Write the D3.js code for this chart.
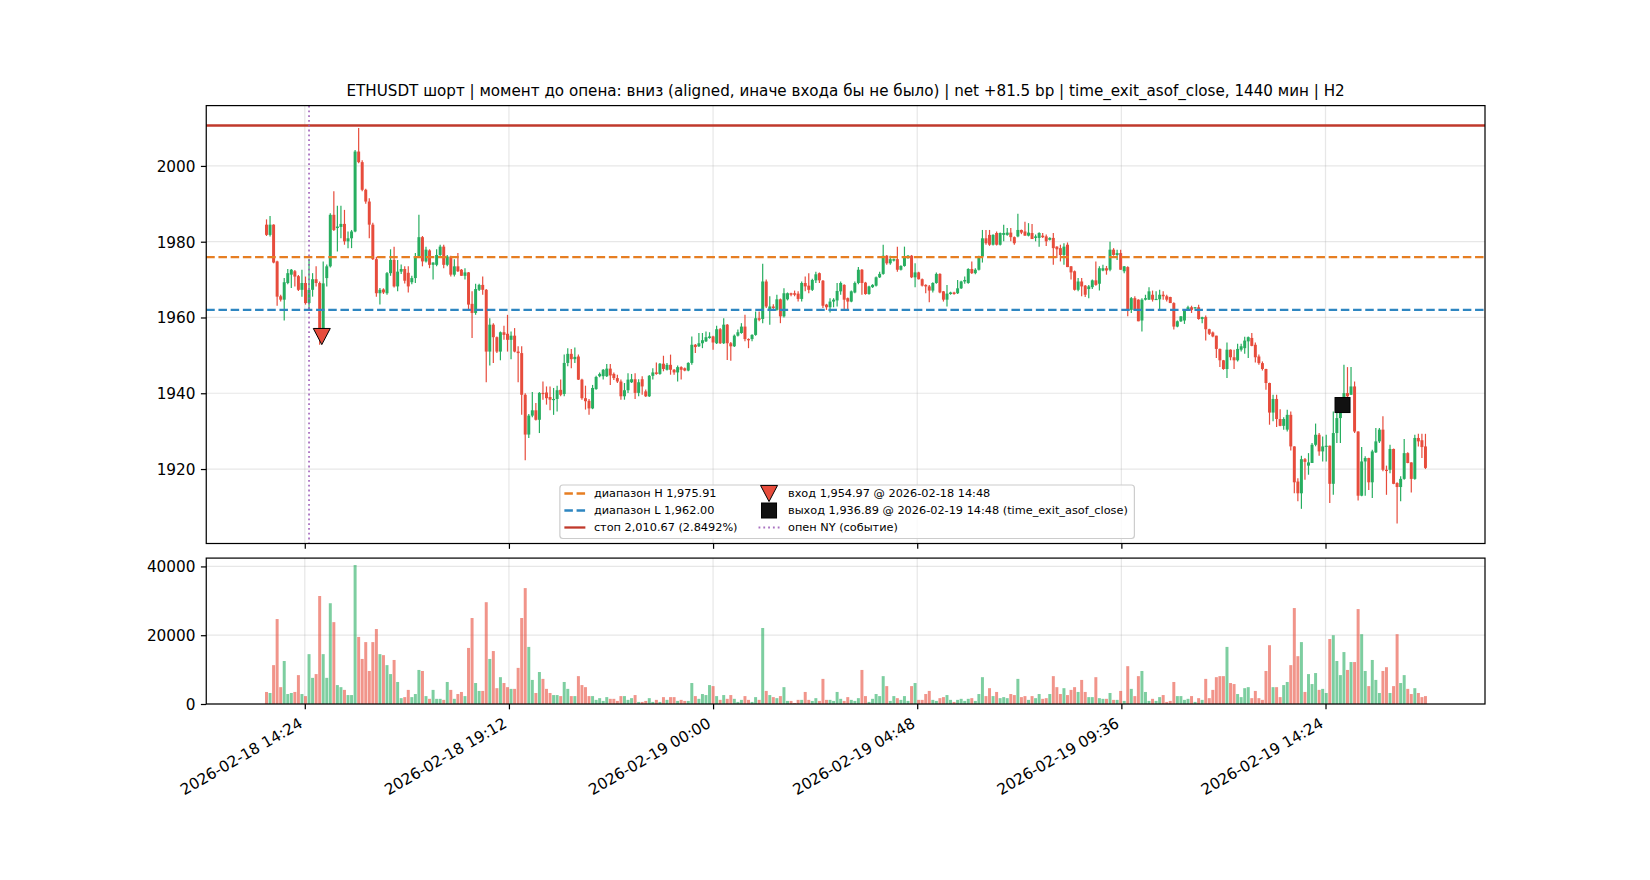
<!DOCTYPE html>
<html><head><meta charset="utf-8">
<script src="https://cdn.jsdelivr.net/npm/d3@7"></script>
<style>body{margin:0;background:#fff}svg{display:block}text{font-family:"DejaVu Sans",sans-serif}</style>
</head><body><svg id="chart" width="1650" height="880"></svg>
<script>
const chartTitle = "ETHUSDT шорт | момент до опена: вниз (aligned, иначе входа бы не было) | net +81.5 bp | time_exit_asof_close, 1440 мин | H2";
const firstBar = "2026-02-18 13:30";
const barMinutes = 5;
const opens = [
1984.5,1981.8,1984.5,1974.8,1965.6,1964.7,1969.1,1971.3,1972.2,1970.9,
1967.3,1969.1,1963.8,1967.3,1970.1,1969.1,1955.2,1970.4,1973.5,1987.1,
1983.6,1983.9,1984.7,1980.1,1980.9,1982.7,2003.8,2001.0,1993.7,1990.6,
1984.5,1975.4,1966.4,1967.4,1966.4,1971.7,1975.2,1968.2,1972.1,1972.8,
1971.8,1969.3,1970.4,1976.1,1981.2,1974.8,1977.7,1973.9,1973.9,1976.5,
1978.7,1973.9,1976.1,1971.3,1973.5,1972.6,1971.0,1971.9,1963.6,1961.2,
1967.3,1968.6,1967.3,1951.0,1958.1,1954.8,1951.0,1956.1,1955.7,1954.1,
1955.2,1951.0,1950.6,1939.6,1929.1,1934.1,1935.5,1933.0,1940.1,1940.2,
1939.0,1938.3,1938.5,1940.9,1939.8,1948.0,1950.4,1949.0,1949.7,1943.6,
1938.7,1938.0,1936.0,1941.1,1944.5,1944.5,1944.5,1946.5,1945.1,1944.0,
1943.1,1939.2,1940.8,1942.9,1943.7,1940.1,1943.7,1940.5,1939.2,1944.6,
1945.5,1945.1,1947.8,1946.2,1947.5,1946.2,1945.5,1946.9,1946.6,1946.0,
1948.0,1952.8,1952.4,1953.2,1953.7,1954.6,1955.0,1953.2,1956.9,1953.2,
1958.1,1953.2,1952.4,1955.2,1955.9,1957.6,1954.3,1954.3,1955.4,1959.8,
1959.6,1969.5,1962.0,1962.9,1962.0,1964.8,1960.3,1964.8,1966.4,1966.4,
1966.3,1964.9,1969.1,1968.4,1967.3,1969.8,1971.7,1969.7,1963.4,1962.7,
1964.2,1964.5,1966.9,1968.6,1965.1,1964.2,1966.6,1969.1,1972.6,1969.2,
1966.2,1968.0,1968.4,1970.6,1971.5,1976.3,1974.3,1975.0,1975.4,1972.6,
1973.6,1975.7,1976.3,1970.6,1971.9,1970.1,1968.6,1968.2,1967.1,1969.1,
1971.5,1966.9,1964.7,1966.2,1966.6,1966.4,1967.7,1969.5,1969.1,1972.8,
1971.7,1972.6,1976.1,1980.9,1981.8,1979.2,1982.3,1979.2,1981.8,1981.8,
1982.4,1981.2,1981.4,1983.1,1982.7,1981.6,1982.3,1981.0,1981.0,1981.6,
1981.4,1980.5,1981.0,1978.7,1978.3,1976.5,1979.2,1973.5,1972.2,1967.3,
1969.5,1968.4,1967.5,1968.0,1969.8,1968.9,1972.4,1973.0,1972.6,1977.9,
1976.5,1977.0,1972.2,1973.3,1962.0,1965.1,1964.7,1959.2,1964.7,1964.7,
1966.0,1964.8,1964.8,1966.0,1965.6,1965.4,1963.8,1957.6,1959.0,1959.2,
1962.0,1962.7,1962.5,1962.7,1959.6,1960.1,1956.9,1956.05,1955.2,1951.7,
1948.7,1946.4,1951.5,1949.5,1948.7,1951.5,1951.9,1953.7,1954.6,1952.8,
1949.7,1947.96,1946.4,1942.7,1934.9,1938.5,1933.2,1931.4,1930.4,1934.3,
1925.97,1916.7,1913.6,1922.6,1920.9,1921.6,1926.4,1929.05,1924.65,1925.97,
1926.15,1916.1,1929.5,1933.45,1935.2,1940.05,1939.6,1941.8,1929.9,1912.96,
1922.0,1922.9,1916.5,1924.4,1927.3,1930.4,1919.8,1919.8,1925.3,1916.3,
1915.25,1917.4,1924.2,1921.75,1917.4,1928.2,1927.6,1925.97];
const highs = [
1985.9,1986.8,1984.6,1975.0,1966.0,1970.4,1972.8,1972.8,1972.5,1971.2,
1972.6,1970.8,1975.5,1971.7,1973.5,1969.5,1974.8,1974.0,1987.5,1993.3,
1989.5,1989.5,1988.4,1982.7,1983.1,2004.2,2010.0,2001.5,1994.0,1991.5,
1985.0,1976.0,1967.8,1967.7,1972.0,1978.0,1978.7,1975.2,1974.0,1973.5,
1973.5,1971.0,1977.0,1987.1,1981.5,1978.7,1978.0,1974.6,1978.0,1979.2,
1979.2,1976.5,1976.3,1975.4,1977.0,1972.8,1973.0,1972.0,1966.9,1968.9,
1968.9,1970.8,1967.5,1959.8,1958.5,1955.0,1956.3,1957.8,1960.7,1956.3,
1957.2,1952.4,1952.4,1940.0,1934.5,1940.3,1937.4,1940.3,1943.1,1941.8,
1941.8,1941.4,1942.0,1943.6,1950.2,1951.9,1951.7,1952.1,1950.2,1943.8,
1942.0,1938.5,1942.2,1944.6,1945.5,1946.4,1947.7,1947.7,1945.5,1944.9,
1943.6,1942.7,1945.3,1945.1,1945.3,1943.7,1944.5,1941.0,1944.8,1946.6,
1948.1,1948.0,1949.9,1948.0,1950.2,1946.4,1947.3,1947.1,1946.8,1948.2,
1955.0,1953.0,1955.9,1955.9,1956.3,1956.1,1955.2,1957.8,1957.2,1959.8,
1958.3,1953.5,1955.5,1956.8,1958.5,1960.7,1954.5,1955.6,1961.6,1961.6,
1974.2,1970.0,1965.6,1963.5,1966.0,1965.0,1967.7,1966.6,1966.5,1967.1,
1966.9,1969.5,1970.8,1971.7,1970.2,1972.1,1971.9,1969.9,1963.6,1965.1,
1965.1,1969.1,1969.5,1968.8,1965.3,1967.1,1969.5,1973.3,1972.8,1969.4,
1968.4,1968.8,1970.8,1972.1,1979.2,1976.5,1976.3,1975.6,1978.7,1973.8,
1978.7,1976.5,1976.5,1974.3,1972.1,1970.3,1968.8,1968.6,1969.3,1971.9,
1971.7,1967.0,1968.6,1966.8,1966.8,1969.9,1969.7,1970.8,1973.0,1974.8,
1973.0,1976.3,1983.1,1983.1,1983.1,1982.0,1982.7,1982.4,1984.5,1983.6,
1983.6,1981.4,1987.4,1983.2,1985.3,1984.9,1984.7,1981.9,1982.5,1982.3,
1981.9,1981.2,1982.3,1978.8,1979.2,1979.6,1979.8,1973.6,1972.4,1970.4,
1970.4,1968.6,1968.6,1970.0,1974.8,1973.5,1973.9,1973.6,1980.0,1978.3,
1977.9,1977.9,1973.6,1973.5,1965.4,1965.6,1964.8,1965.1,1966.0,1968.0,
1967.1,1966.9,1967.3,1966.9,1966.0,1965.5,1964.0,1959.2,1960.4,1962.1,
1963.1,1963.1,1962.8,1963.35,1960.2,1960.5,1957.0,1956.3,1955.2,1951.8,
1948.8,1953.4,1951.6,1951.5,1953.06,1953.06,1954.9,1955.0,1955.9,1953.4,
1950.2,1948.4,1946.5,1942.8,1939.6,1939.6,1935.8,1933.7,1935.65,1935.2,
1926.0,1917.6,1923.5,1922.9,1924.2,1926.85,1932.0,1929.5,1928.6,1929.05,
1926.2,1935.2,1935.5,1936.5,1947.5,1946.9,1946.9,1943.1,1929.95,1925.8,
1923.4,1923.0,1925.1,1930.8,1930.8,1933.9,1920.9,1926.4,1925.4,1916.5,
1918.1,1927.9,1924.4,1921.8,1929.05,1929.3,1929.3,1929.3];
const lows = [
1981.5,1981.4,1974.3,1963.1,1964.2,1959.2,1968.8,1967.8,1968.2,1967.0,
1965.5,1963.4,1962.0,1965.5,1968.2,1952.8,1954.8,1968.2,1973.2,1982.8,
1977.4,1980.9,1979.2,1978.3,1978.3,1982.5,2000.7,1993.3,1990.0,1980.9,
1975.2,1965.5,1963.4,1966.2,1966.0,1971.0,1967.9,1966.9,1971.5,1969.0,
1966.6,1968.8,1969.1,1975.8,1973.5,1974.5,1973.0,1970.0,1973.5,1976.2,
1973.0,1973.5,1970.8,1970.8,1972.0,1971.0,1970.0,1962.0,1954.6,1960.7,
1967.0,1966.0,1942.9,1947.3,1948.0,1950.6,1948.7,1954.1,1951.0,1949.0,
1950.8,1942.9,1934.3,1922.3,1928.2,1933.7,1932.8,1929.5,1938.3,1937.0,
1935.5,1934.3,1935.2,1939.2,1939.2,1947.1,1946.6,1948.0,1943.5,1938.3,
1935.7,1934.3,1935.8,1940.9,1944.2,1943.6,1944.3,1942.2,1943.5,1942.7,
1938.3,1938.3,1940.1,1942.7,1938.5,1939.2,1939.6,1939.0,1939.0,1943.6,
1944.9,1944.9,1945.8,1946.0,1944.9,1944.9,1943.1,1943.6,1945.8,1945.8,
1947.5,1950.6,1952.2,1951.9,1953.5,1954.4,1951.5,1953.0,1953.0,1953.0,
1948.8,1948.6,1952.2,1955.0,1955.7,1953.7,1951.9,1953.7,1955.2,1959.0,
1958.5,1962.5,1958.1,1962.0,1961.8,1958.5,1960.0,1964.5,1965.6,1965.6,
1964.2,1964.2,1966.9,1966.4,1967.0,1969.1,1969.1,1962.5,1962.0,1961.3,
1962.7,1962.9,1966.0,1962.0,1962.0,1964.0,1966.4,1968.8,1966.0,1966.0,
1966.0,1967.8,1968.2,1970.4,1971.3,1973.9,1973.9,1974.8,1972.1,1972.4,
1973.4,1975.5,1970.4,1968.0,1970.0,1968.2,1966.4,1964.0,1966.6,1968.9,
1966.4,1964.2,1962.9,1966.0,1966.0,1966.2,1967.5,1968.9,1968.9,1971.5,
1971.4,1972.4,1974.5,1979.2,1978.9,1979.0,1979.0,1979.0,1980.1,1981.6,
1980.1,1979.2,1981.2,1982.0,1981.6,1981.4,1980.7,1980.1,1978.7,1981.0,
1978.9,1980.3,1973.9,1975.7,1974.8,1973.9,1973.3,1970.0,1967.1,1966.9,
1965.6,1965.4,1965.1,1967.5,1968.4,1967.1,1972.2,1971.3,1972.2,1976.3,
1975.2,1972.6,1971.7,1960.3,1961.2,1961.8,1959.0,1956.3,1964.5,1964.6,
1964.2,1964.6,1962.0,1964.7,1964.2,1963.8,1956.8,1957.4,1958.8,1958.3,
1961.8,1961.2,1962.4,1959.4,1958.5,1953.9,1955.4,1954.8,1949.3,1946.9,
1946.2,1944.0,1948.7,1946.4,1948.4,1951.04,1950.4,1949.3,1952.4,1948.1,
1947.5,1946.0,1940.9,1931.7,1932.6,1931.1,1931.3,1930.4,1929.9,1924.9,
1913.6,1911.5,1909.5,1917.2,1918.5,1921.6,1926.0,1923.5,1922.0,1922.0,
1911.05,1913.2,1926.85,1926.85,1934.9,1935.2,1939.6,1929.5,1911.7,1912.8,
1912.96,1914.5,1912.35,1924.2,1926.85,1919.4,1913.2,1918.9,1916.0,1905.6,
1911.5,1917.2,1921.5,1913.8,1917.2,1925.97,1922.9,1920.0];
const closes = [
1981.8,1984.5,1974.5,1965.5,1964.7,1969.3,1971.7,1972.6,1970.8,1967.3,
1969.1,1963.8,1967.3,1970.1,1969.1,1954.97,1969.0,1973.5,1987.1,1983.1,
1984.0,1984.7,1980.1,1980.9,1982.7,2003.8,2001.0,1993.7,1990.6,1984.5,
1975.4,1966.4,1967.3,1966.6,1971.7,1975.2,1968.2,1972.1,1972.8,1969.7,
1968.2,1970.4,1976.1,1981.2,1974.8,1977.9,1973.9,1974.5,1976.5,1978.7,
1973.9,1976.1,1971.3,1973.5,1972.2,1971.0,1971.9,1963.4,1961.2,1967.5,
1968.6,1967.3,1951.0,1958.1,1954.8,1951.0,1956.1,1955.4,1954.1,1955.2,
1951.0,1950.6,1939.6,1929.1,1934.1,1935.5,1933.0,1940.1,1939.9,1938.7,
1938.3,1938.5,1940.8,1939.6,1948.0,1950.4,1949.0,1949.6,1943.6,1938.7,
1937.9,1936.0,1941.4,1944.3,1945.1,1946.2,1946.5,1944.7,1944.0,1943.1,
1939.2,1940.8,1943.6,1943.7,1940.1,1942.9,1941.8,1939.2,1944.6,1945.5,
1945.1,1947.8,1946.4,1947.5,1946.2,1945.5,1946.9,1946.2,1946.0,1948.0,
1952.8,1952.2,1953.2,1954.0,1954.8,1955.0,1953.4,1956.9,1953.2,1958.1,
1953.2,1952.4,1955.2,1956.1,1957.6,1954.3,1954.1,1955.4,1959.8,1959.4,
1969.5,1962.9,1962.9,1962.5,1964.8,1960.3,1966.4,1966.4,1966.0,1966.0,
1964.9,1969.1,1968.2,1967.3,1969.9,1971.4,1969.8,1963.1,1962.7,1964.2,
1964.7,1967.0,1969.1,1964.7,1964.2,1966.9,1969.1,1972.6,1969.1,1966.2,
1968.2,1968.6,1970.6,1971.5,1976.3,1974.3,1975.4,1975.4,1972.6,1973.6,
1976.1,1976.3,1970.6,1971.9,1970.1,1968.4,1968.2,1967.1,1969.1,1971.5,
1966.6,1964.7,1966.3,1966.6,1966.2,1967.7,1969.5,1969.9,1972.8,1971.7,
1972.6,1976.1,1980.9,1979.6,1979.2,1981.8,1979.2,1982.3,1982.3,1982.4,
1981.2,1979.6,1983.1,1982.4,1981.6,1982.4,1980.7,1981.4,1982.3,1981.2,
1980.1,1981.0,1978.3,1978.0,1976.5,1978.7,1973.3,1971.9,1967.3,1969.5,
1968.2,1966.0,1968.2,1969.8,1968.6,1973.0,1973.0,1972.4,1977.9,1976.5,
1977.0,1972.6,1973.5,1961.9,1965.1,1962.0,1959.0,1964.7,1965.1,1966.9,
1964.7,1964.9,1966.0,1965.6,1964.7,1963.8,1957.6,1959.0,1960.3,1962.0,
1962.7,1962.0,1962.7,1959.6,1960.1,1956.9,1955.7,1955.0,1951.7,1948.7,
1946.4,1951.5,1949.5,1948.7,1951.7,1952.4,1953.9,1954.8,1952.5,1949.5,
1947.96,1946.4,1942.7,1934.9,1938.5,1933.2,1931.4,1933.2,1934.3,1925.97,
1916.5,1913.6,1922.6,1921.9,1921.75,1926.4,1929.05,1924.65,1925.97,1926.15,
1916.1,1929.5,1933.45,1935.2,1940.05,1939.2,1941.8,1929.9,1912.96,1922.0,
1922.9,1916.5,1924.65,1927.3,1930.4,1919.8,1919.6,1925.3,1916.1,1915.25,
1917.4,1924.2,1921.6,1917.4,1928.2,1927.3,1925.8,1920.3];
const volumes = [
3500,3200,11300,24700,4900,12500,2900,3200,3500,8400,
2900,2300,14500,7600,8700,31400,14500,7600,29300,23800,
5500,4900,4100,2600,2600,40400,19500,13100,18000,9600,
18000,21800,14500,14200,11300,8700,12800,6400,1700,2000,
4100,2000,2900,9900,9600,2300,1500,4100,1500,1500,
1200,6400,4100,1500,2900,3500,2300,16300,25000,6100,
3800,3800,29600,13100,15400,4600,7800,6100,4900,4400,
4400,10500,25000,33700,16600,7000,3200,9300,7300,4400,
3200,2600,2600,2300,6400,4400,2300,2300,8100,5500,
4900,2300,2300,1200,1700,900,2000,1500,1500,900,
2300,2300,1200,1700,2600,600,600,900,1700,600,
1200,600,2000,1200,2000,2000,900,1200,900,900,
6100,2300,1500,2900,2600,5500,5200,2300,1200,2600,
1500,2600,1500,600,1200,2300,1200,600,2000,1200,
22100,3800,2600,2000,1700,2300,4900,900,900,300,
1200,1200,3500,1200,900,1700,900,7300,1200,1200,
900,3500,1500,900,2000,1200,900,1700,9900,2300,
600,1500,2900,2300,8100,5200,900,2300,1700,1200,
2300,900,5200,6100,1200,1200,2900,3800,1200,900,
1700,2000,2600,1200,600,1200,1500,900,1500,1700,
900,2900,7800,2300,4600,2300,3500,1700,2000,1700,
2900,2600,7300,2000,2300,1200,2300,1700,2900,1500,
1700,2900,8100,4900,2900,4600,2600,4100,4900,3500,
7000,3500,2000,2000,7800,1700,1500,1500,3200,1200,
1200,3800,900,11000,4400,2300,8100,9600,3500,900,
1500,900,2000,2600,600,900,6400,2300,2300,1200,
1500,2300,600,1700,1200,7300,1700,4100,7800,8100,
8100,16600,6100,5800,2900,2000,4600,4900,1700,3800,
1700,1200,9600,17100,4900,4900,2000,5500,6400,11300,
27900,13900,18000,3500,8700,5800,9000,4100,4400,3200,
18900,20000,12500,8400,15100,9900,12200,12200,27600,20300,
9600,5200,12800,7000,3200,9600,10700,3200,5200,20300,
6100,8400,4400,2900,4600,3200,2000,2300];
const xTickLabels = ["2026-02-18 14:24","2026-02-18 19:12","2026-02-19 00:00","2026-02-19 04:48","2026-02-19 09:36","2026-02-19 14:24"];
const priceTicks = [1920,1940,1960,1980,2000];
const volumeTicks = [0,20000,40000];
const rangeHigh = 1975.91, rangeLow = 1962.00, stopPrice = 2010.67, stopPct = 2.8492;
const entryPrice = 1954.97, entryTime = "2026-02-18 14:48";
const exitPrice = 1936.89, exitTime = "2026-02-19 14:48", exitReason = "time_exit_asof_close";
const nyOpenTime = "2026-02-18 14:30";

// ---------- layout / style ----------
const L = 206.25, R = 1485;
const mainT = 105.6, mainB = 543.5, volT = 558.1, volB = 704;
const UP = "#27ae60", DOWN = "#e74c3c";
const tickFont = 15.3, lw = 1.22;

const svg = d3.select("#chart");
svg.append("rect").attr("width",1650).attr("height",880).attr("fill","#fff");
const parse = d3.utcParse("%Y-%m-%d %H:%M");
const t0 = parse(firstBar);
const times = opens.map((_, i) => d3.utcMinute.offset(t0, i * barMinutes));
const halfBar = 2.5;
const xmin = +d3.utcMinute.offset(times[0], -halfBar), xmax = +d3.utcMinute.offset(times[times.length-1], halfBar);
const xs = xmax - xmin;
const x = d3.scaleUtc().domain([new Date(xmin - 0.05*xs), new Date(xmax + 0.05*xs)]).range([L, R]);
const lo = d3.min(lows), hi = Math.max(d3.max(highs), stopPrice), pr = hi - lo;
const y = d3.scaleLinear().domain([lo - 0.05*pr, hi + 0.05*pr]).range([mainB, mainT]);
const yv = d3.scaleLinear().domain([0, d3.max(volumes) * 1.05]).range([volB, volT]);
const xTicks = xTickLabels.map(parse);
const bw = (x(new Date(+t0 + 60000)) - x(t0)) * 4.2;

// grids
function grid(yScale, ticks, top, bottom) {
  const g = svg.append("g").attr("stroke","#b0b0b0").attr("stroke-opacity",0.3).attr("stroke-width",lw);
  g.selectAll(".vx").data(xTicks).join("line").attr("x1",d=>x(d)).attr("x2",d=>x(d)).attr("y1",top).attr("y2",bottom);
  g.selectAll(".hy").data(ticks).join("line").attr("x1",L).attr("x2",R).attr("y1",d=>yScale(d)).attr("y2",d=>yScale(d));
}
grid(y, priceTicks, mainT, mainB);
grid(yv, volumeTicks, volT, volB);

// candles
const idx = d3.range(opens.length);
const col = i => closes[i] >= opens[i] ? UP : DOWN;
const cg = svg.append("g");
cg.selectAll("line").data(idx).join("line")
  .attr("x1", i => x(times[i])).attr("x2", i => x(times[i]))
  .attr("y1", i => y(highs[i])).attr("y2", i => y(lows[i]))
  .attr("stroke", col).attr("stroke-width", 1.2);
cg.selectAll("rect").data(idx).join("rect")
  .attr("x", i => x(times[i]) - bw/2).attr("width", bw)
  .attr("y", i => y(Math.max(opens[i], closes[i])))
  .attr("height", i => Math.max(1.2, Math.abs(y(opens[i]) - y(closes[i]))))
  .attr("fill", col);

// volume bars
svg.append("g").selectAll("rect").data(idx).join("rect")
  .attr("x", i => x(times[i]) - bw/2).attr("width", bw)
  .attr("y", i => yv(volumes[i])).attr("height", i => yv(0) - yv(volumes[i]))
  .attr("fill", col).attr("fill-opacity", 0.6);

// reference lines
const dash = "8.5,3.7";
const hl = svg.append("g");
hl.append("line").attr("x1",L).attr("x2",R).attr("y1",y(rangeHigh)).attr("y2",y(rangeHigh)).attr("stroke","#e67e22").attr("stroke-width",2.3).attr("stroke-dasharray",dash);
hl.append("line").attr("x1",L).attr("x2",R).attr("y1",y(rangeLow)).attr("y2",y(rangeLow)).attr("stroke","#2e86c1").attr("stroke-width",2.3).attr("stroke-dasharray",dash);
hl.append("line").attr("x1",L).attr("x2",R).attr("y1",y(stopPrice)).attr("y2",y(stopPrice)).attr("stroke","#c0392b").attr("stroke-width",2.3);
const nx = x(parse(nyOpenTime));
hl.append("line").attr("x1",nx).attr("x2",nx).attr("y1",mainT).attr("y2",mainB).attr("stroke","#9b59b6").attr("stroke-opacity",0.85).attr("stroke-width",1.8).attr("stroke-dasharray","1.8,3");

// markers
const tri = (cx, cy, s) => `M${cx-s},${cy-s*0.95}L${cx+s},${cy-s*0.95}L${cx},${cy+s*0.95}Z`;
svg.append("path").attr("d", tri(x(parse(entryTime)), y(entryPrice), 8.5)).attr("fill", DOWN).attr("stroke","#000").attr("stroke-width",1);
const ex = x(parse(exitTime)), ey = y(exitPrice);
svg.append("rect").attr("x",ex-7.5).attr("y",ey-7.5).attr("width",15).attr("height",15).attr("fill","#111").attr("stroke","#000").attr("stroke-width",1);

// frames
[[mainT, mainB],[volT, volB]].forEach(([t,b]) => svg.append("rect").attr("x",L).attr("y",t).attr("width",R-L).attr("height",b-t).attr("fill","none").attr("stroke","#000").attr("stroke-width",lw));

// axes
function styleAxis(g) {
  g.select(".domain").remove();
  g.selectAll(".tick line").attr("stroke","#000").attr("stroke-width",lw);
  g.selectAll(".tick text").attr("fill","#000").attr("font-size",tickFont).attr("font-family","DejaVu Sans");
}
svg.append("g").attr("transform",`translate(${L},0)`)
  .call(d3.axisLeft(y).tickValues(priceTicks).tickFormat(d3.format("d")).tickSize(5.35).tickPadding(5.35)).call(styleAxis)
  .selectAll(".tick text").attr("dy","0.35em");
svg.append("g").attr("transform",`translate(${L},0)`)
  .call(d3.axisLeft(yv).tickValues(volumeTicks).tickFormat(d3.format("d")).tickSize(5.35).tickPadding(5.35)).call(styleAxis)
  .selectAll(".tick text").attr("dy","0.35em");
svg.append("g").attr("transform",`translate(0,${mainB})`)
  .call(d3.axisBottom(x).tickValues(xTicks).tickFormat("").tickSize(5.35)).call(styleAxis);
const fmtTick = d3.utcFormat("%Y-%m-%d %H:%M");
svg.append("g").attr("transform",`translate(0,${volB})`)
  .call(d3.axisBottom(x).tickValues(xTicks).tickFormat(fmtTick).tickSize(5.35)).call(styleAxis)
  .selectAll(".tick text").attr("x",-1.6).attr("y",22.5).attr("dy",null).attr("text-anchor","end")
  .attr("transform","rotate(-30,-1.6,22.5)");

// title
svg.append("text").attr("x",(L+R)/2).attr("y",mainT-9.2).attr("text-anchor","middle")
  .attr("font-size",15.15).attr("fill","#000").text(chartTitle);

// legend
const f2 = d3.format(",.2f");
const fs = 11.3;
const col1 = [
  {kind:"line", color:"#e67e22", dash:dash, label:`диапазон H ${f2(rangeHigh)}`},
  {kind:"line", color:"#2e86c1", dash:dash, label:`диапазон L ${f2(rangeLow)}`},
  {kind:"line", color:"#c0392b", dash:null, label:`стоп ${f2(stopPrice)} (${stopPct.toFixed(4)}%)`}];
const col2 = [
  {kind:"tri", label:`вход ${f2(entryPrice)} @ ${entryTime}`},
  {kind:"sq", label:`выход ${f2(exitPrice)} @ ${exitTime} (${exitReason})`},
  {kind:"line", color:"#9b59b6", dash:"1.8,3", w:1.8, label:"опен NY (событие)"}];
const lg = svg.append("g");
const frame = lg.append("rect");
const rowY = [0, 17, 34];
function measure(items) {
  const tmp = items.map(d => lg.append("text").attr("font-size",fs).text(d.label));
  const w = d3.max(tmp, t => t.node().getComputedTextLength()); tmp.forEach(t => t.remove()); return w;
}
const w1 = measure(col1), w2 = measure(col2);
const bp = 4.5, hlen = 21, htp = 8.5, cs = 21;
const lw_ = bp + hlen + htp + w1 + cs + hlen + htp + w2 + bp + 2;
const lx = (L+R)/2 + 1.5 - lw_/2, ly = 485, lh = 53.5;
frame.attr("x",lx).attr("y",ly).attr("width",lw_).attr("height",lh).attr("rx",3)
  .attr("fill","#fff").attr("fill-opacity",0.8).attr("stroke","#cccccc").attr("stroke-width",1.2);
function drawCol(items, hx) {
  items.forEach((d, k) => {
    const cy = ly + 8.5 + rowY[k];
    if (d.kind === "line") lg.append("line").attr("x1",hx).attr("x2",hx+hlen).attr("y1",cy).attr("y2",cy)
      .attr("stroke",d.color).attr("stroke-width",d.w||2.3).attr("stroke-dasharray",d.dash).attr("stroke-opacity", d.w?0.85:1);
    else if (d.kind === "tri") lg.append("path").attr("d",tri(hx+hlen/2, cy, 8.5)).attr("fill",DOWN).attr("stroke","#000").attr("stroke-width",1);
    else lg.append("rect").attr("x",hx+hlen/2-7.5).attr("y",cy-7.5).attr("width",15).attr("height",15).attr("fill","#111").attr("stroke","#000");
    lg.append("text").attr("x",hx+hlen+htp).attr("y",cy).attr("dy","0.35em").attr("font-size",fs).attr("fill","#000").text(d.label);
  });
}
drawCol(col1, lx + bp);
drawCol(col2, lx + bp + hlen + htp + w1 + cs);
</script></body></html>
